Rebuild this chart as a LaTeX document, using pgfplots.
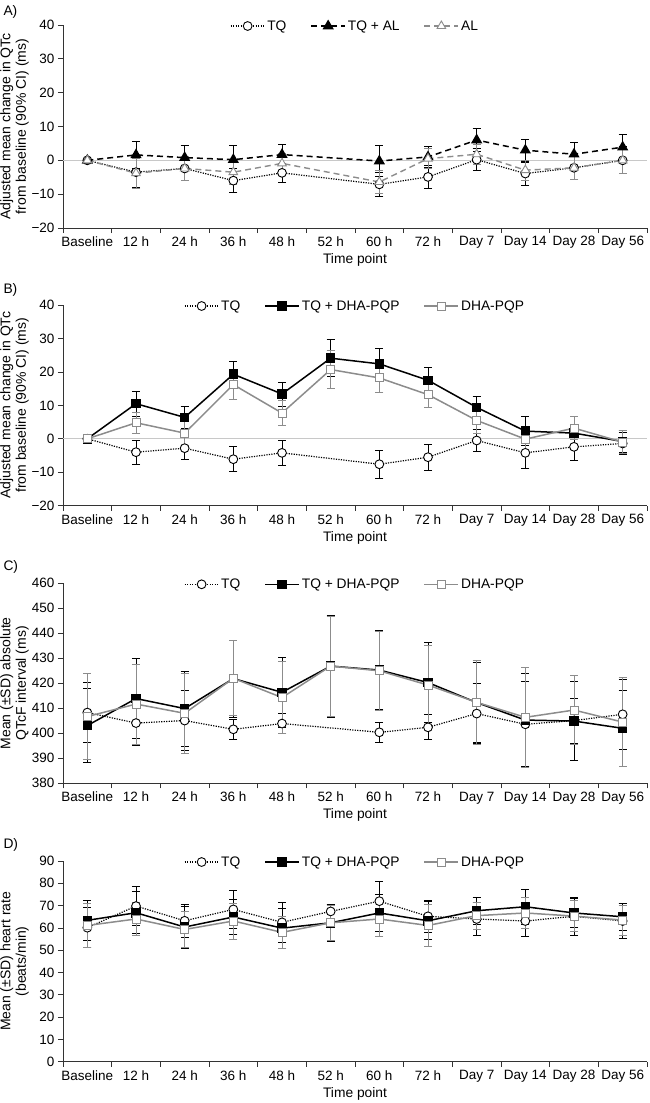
\documentclass[border=0pt]{standalone}
\usepackage{fontspec}
\setmainfont{Liberation Sans}
\usepackage{pgfplots}
\pgfplotsset{compat=1.18}
\definecolor{ser}{HTML}{8C8C8C}
\definecolor{zl}{HTML}{C8C8C8}
\definecolor{ax}{HTML}{333333}
\pgfplotsset{
  panel/.style={
    scale only axis, width=584bp,
    axis lines*=left,
    axis line style={ax, line width=0.9bp},
    xmin=-0.5, xmax=11.5,
    xtick={0,...,11},
    xticklabels={Baseline,12 h,24 h,36 h,48 h,52 h,60 h,72 h,Day 7,Day 14,Day 28,Day 56},
    minor xtick={-0.5,0.5,...,11.5},
    major x tick style={draw=none},
    tick align=outside,
    major tick length=5bp, minor tick length=5bp,
    tick style={ax, line width=0.8bp},
    font=\fontsize{13.5bp}{16bp}\selectfont,
    xlabel={Time point},
    xlabel style={at={(axis description cs:0.5,0)}, anchor=north, yshift=-22bp, font=\fontsize{13.8bp}{16bp}\selectfont},
    ylabel style={at={(axis description cs:-0.083,0.5)}, anchor=center, align=center, font=\fontsize{14bp}{15.5bp}\selectfont},
    clip=false,
    legend style={at={(0.5,1)}, anchor=center, yshift=-1bp, draw=none, fill=none, legend columns=-1,
      font=\fontsize{13.8bp}{16bp}\selectfont,
      /tikz/every even column/.append style={column sep=22bp}},
    legend image code/.code={\draw[mark repeat=2,mark phase=2,##1] plot coordinates {(0bp,0bp) (17bp,0bp) (34bp,0bp)};},
  },
  ebar/.style={error bars/.cd, y dir=both, y explicit,
    error bar style={solid, line width=0.8bp, #1},
    error mark options={rotate=90, solid, line width=0.8bp, mark size=4bp, #1}},
  tq/.style={black, dash pattern=on 1.2bp off 1.3bp, line width=1.2bp, mark=*, mark size=4.4bp,
    mark options={solid, fill=white, draw=black, line width=0.9bp}, ebar=black},
  tqal/.style={black, dash pattern=on 6bp off 4bp, line width=1.5bp, mark=triangle*, mark size=5bp,
    mark options={solid, fill=black}, ebar=black},
  al/.style={ser, dash pattern=on 6bp off 4bp, line width=1.4bp, mark=triangle*, mark size=5bp,
    mark options={solid, fill=white, draw=ser, line width=0.9bp}, ebar=ser},
  tqd/.style={black, solid, line width=1.5bp, mark=square*, mark size=4bp,
    mark options={solid, fill=black}, ebar=black},
  dha/.style={ser, solid, line width=1.5bp, mark=square*, mark size=4bp,
    mark options={solid, fill=white, draw=ser, line width=0.9bp}, ebar=ser},
  zero/.style={zl, line width=0.8bp, forget plot},
}
\begin{document}
\begin{tikzpicture}
\useasboundingbox (0,0) rectangle (650bp,-1103bp);
\node[anchor=west, font=\fontsize{13.8bp}{16bp}\selectfont] at (0bp,-12bp) {A)};
\node[anchor=west, font=\fontsize{13.8bp}{16bp}\selectfont] at (0bp,-290bp) {B)};
\node[anchor=west, font=\fontsize{13.8bp}{16bp}\selectfont] at (0bp,-567bp) {C)};
\node[anchor=west, font=\fontsize{13.8bp}{16bp}\selectfont] at (0bp,-845bp) {D)};

% ---------------- A ----------------
\begin{axis}[panel, at={(63bp,-228bp)}, anchor=south west, height=203bp,
  ymin=-20, ymax=40, ytick={-20,-10,...,40}, yticklabels={−20,−10,0,10,20,30,40},
  ylabel={Adjusted mean change in QTc\\from baseline (90\% CI) (ms)}]
\addplot[zero] coordinates {(-0.5,0) (11.5,0)};
\addplot[tq] coordinates {(0,0) +- (0,0) (1,-3.5) +- (0,4.6) (2,-2.4) +- (0,3.5) (3,-6.0) +- (0,3.6) (4,-3.7) +- (0,2.8) (6,-7.1) +- (0,3.6) (7,-4.9) +- (0,3.4) (8,0.2) +- (0,3.2) (9,-3.9) +- (0,3.4) (10,-2.2) +- (0,3.4) (11,0) +- (0,4.0)};
\addlegendentry{TQ}
\addplot[tqal] coordinates {(0,0) +- (0,0) (1,1.6) +- (0,4.1) (2,0.8) +- (0,3.5) (3,0.2) +- (0,4.3) (4,1.7) +- (0,3.0) (6,-0.2) +- (0,4.5) (7,1.0) +- (0,3.0) (8,6.0) +- (0,3.4) (9,3.0) +- (0,3.3) (10,1.8) +- (0,3.6) (11,3.9) +- (0,3.9)};
\addlegendentry{TQ + AL}
\addplot[al] coordinates {(0,0) +- (0,0) (1,-3.8) +- (0,4.5) (2,-2.4) +- (0,3.5) (3,-3.5) +- (0,3.5) (4,-0.9) +- (0,3.0) (6,-6.4) +- (0,3.5) (7,0.5) +- (0,3.0) (8,1.8) +- (0,3.0) (9,-2.9) +- (0,3.0) (10,-2.2) +- (0,3.3) (11,0) +- (0,3.8)};
\addlegendentry{AL}
\end{axis}

% ---------------- B ----------------
\begin{axis}[panel, at={(63bp,-505.7bp)}, anchor=south west, height=200.7bp,
  ymin=-20, ymax=40, ytick={-20,-10,...,40}, yticklabels={−20,−10,0,10,20,30,40},
  ylabel={Adjusted mean change in QTc\\from baseline (90\% CI) (ms)}]
\addplot[zero] coordinates {(-0.5,0) (11.5,0)};
\addplot[tq] coordinates {(0,0) +- (0,0) (1,-4.0) +- (0,3.6) (2,-2.8) +- (0,3.3) (3,-6.1) +- (0,3.7) (4,-4.2) +- (0,3.7) (6,-7.6) +- (0,4.2) (7,-5.5) +- (0,3.9) (8,-0.5) +- (0,3.3) (9,-4.2) +- (0,4.7) (10,-2.4) +- (0,4.0) (11,-1.4) +- (0,3.2)};
\addlegendentry{TQ}
\addplot[tqd] coordinates {(0,0) +- (0,0) (1,10.5) +- (0,3.7) (2,6.4) +- (0,3.2) (3,19.3) +- (0,3.7) (4,13.4) +- (0,3.6) (5,24.1) +- (0,5.5) (6,22.4) +- (0,4.5) (7,17.5) +- (0,3.7) (8,9.4) +- (0,3.4) (9,2.3) +- (0,4.4) (10,1.7) +- (0,5.0) (11,-0.8) +- (0,3.4)};
\addlegendentry{TQ + DHA-PQP}
\addplot[dha] coordinates {(0,0) +- (0,0) (1,4.8) +- (0,3.1) (2,1.7) +- (0,3.6) (3,16.2) +- (0,4.4) (4,7.7) +- (0,3.7) (5,20.7) +- (0,5.7) (6,18.2) +- (0,4.3) (7,13.2) +- (0,3.7) (8,5.5) +- (0,3.8) (9,-0.1) +- (0,3.7) (10,3.2) +- (0,3.5) (11,-1.0) +- (0,3.5)};
\addlegendentry{DHA-PQP}
\end{axis}

% ---------------- C ----------------
\begin{axis}[panel, at={(63bp,-783.3bp)}, anchor=south west, height=200bp,
  ymin=380, ymax=460, ytick={380,390,...,460}, yticklabels={380,390,400,410,420,430,440,450,460},
  ylabel={Mean (±SD) absolute\\QTcF interval (ms)}]
\addplot[tq] coordinates {(0,408.3) +- (0,12) (1,404.1) +- (0,9) (2,405.1) +- (0,12) (3,401.6) +- (0,4) (4,403.9) +- (0,4) (6,400.4) +- (0,4) (7,402.4) +- (0,5) (8,407.9) +- (0,12) (9,403.6) +- (0,17) (10,405.1) +- (0,9) (11,407.6) +- (0,14)};
\addlegendentry{TQ}
\addplot[tqd] coordinates {(0,403.1) +- (0,14.8) (1,413.9) +- (0,16) (2,409.9) +- (0,15) (3,421.9) +- (0,15.4) (4,416.4) +- (0,14) (5,426.9) +- (0,20.4) (6,425.3) +- (0,15.7) (7,420.3) +- (0,16) (8,412.3) +- (0,16) (9,405.3) +- (0,18.7) (10,404.9) +- (0,15.7) (11,402.0) +- (0,15.2)};
\addlegendentry{TQ + DHA-PQP}
\addplot[dha] coordinates {(0,406.7) +- (0,17.3) (1,411.7) +- (0,16) (2,408.0) +- (0,16) (3,422.0) +- (0,15) (4,414.3) +- (0,14.4) (5,426.9) +- (0,20) (6,425.0) +- (0,15.7) (7,419.3) +- (0,16) (8,412.4) +- (0,16.7) (9,406.4) +- (0,20) (10,409.3) +- (0,13.7) (11,404.5) +- (0,17.7)};
\addlegendentry{DHA-PQP}
\end{axis}

% ---------------- D ----------------
\begin{axis}[panel, at={(63bp,-1061.7bp)}, anchor=south west, height=200.7bp,
  ymin=0, ymax=90, ytick={0,10,...,90}, yticklabels={0,10,20,30,40,50,60,70,80,90},
  ylabel={Mean (±SD) heart rate\\(beats/min)}]
\addplot[tq] coordinates {(0,60.1) +- (0,9) (1,69.8) +- (0,8.7) (2,63.2) +- (0,7.5) (3,68.3) +- (0,8.4) (4,62.5) +- (0,8.8) (5,67.4) +- (0,3.2) (6,72.0) +- (0,9) (7,65.2) +- (0,7) (8,64.0) +- (0,7.4) (9,63.1) +- (0,7) (10,65.2) +- (0,8.7) (11,63.1) +- (0,7.9)};
\addlegendentry{TQ}
\addplot[tqd] coordinates {(0,63.4) +- (0,9) (1,66.8) +- (0,9.4) (2,60.4) +- (0,9.4) (3,64.9) +- (0,8) (4,59.9) +- (0,8.9) (5,62.3) +- (0,8.2) (6,66.7) +- (0,8.4) (7,63.2) +- (0,8.5) (8,67.7) +- (0,6.1) (9,69.5) +- (0,7.8) (10,66.7) +- (0,6.4) (11,65.0) +- (0,5.9)};
\addlegendentry{TQ + DHA-PQP}
\addplot[dha] coordinates {(0,61.1) +- (0,10) (1,64.0) +- (0,7.5) (2,59.3) +- (0,8) (3,63.1) +- (0,8.1) (4,58.0) +- (0,7.2) (5,62.3) +- (0,8) (6,64.0) +- (0,8) (7,61.1) +- (0,9.6) (8,65.5) +- (0,6) (9,66.7) +- (0,7) (10,65.3) +- (0,7) (11,63.5) +- (0,6.8)};
\addlegendentry{DHA-PQP}
\end{axis}
\end{tikzpicture}
\end{document}
